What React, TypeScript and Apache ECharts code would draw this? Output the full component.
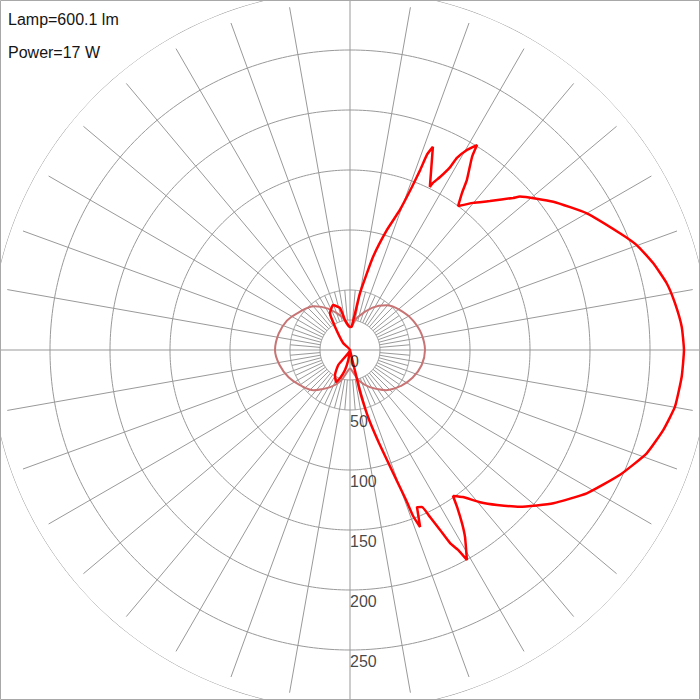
import { useEffect, useRef } from "react";
import * as echarts from "echarts";

const lampText = "Lamp=600.1 lm";
const powerText = "Power=17 W";

const radiusTicks = [0, 50, 100, 150, 200, 250];
const gridRings = [25, 50, 100, 150, 200, 250, 300];

// Red curve (C0 right / C180 left). Angle: 0 = nadir (down), 90 = right, 180 = zenith, 270 = left.
const redAngles = [
  0, 13, 13.5, 13.5, 14.5, 15.5, 17.3, 18.7, 19.7, 20.5, 20.8, 21.6, 23.1, 24.6, 25.6, 26.6, 27.4, 28.4, 29.1,
  31.6, 32.9, 34.3, 35.2, 37.5, 40.5, 43.5, 47.3, 53.0, 58.8, 65.2, 70.8, 75.7, 80.1, 85.4, 90.0, 94.0, 98.2,
  101.9, 106.0, 110.1, 113.4, 120.0, 126.1, 132.1, 133.0, 136.8, 140.1, 143.1, 144.5, 145.5, 147.7, 148.2,
  149.7, 150.9, 151.3, 152.5, 153.6, 153.9, 157.8, 158.5, 158.7, 159.2, 160.4, 162.9, 166.1, 170.0, 175.8,
  180.0, 189.5, 193.4, 200.7, 208.6, 212.8, 225.0, 240, 300, 310, 322, 329, 336.4, 340.5, 346, 350.4, 360,
];
const redValues = [
  0, 6, 20, 35, 50, 62.3, 81.2, 98.6, 116, 133.4, 148, 158.7, 142.3, 143.9, 154.3, 167.7, 181.2, 189.4, 200.3,
  182.9, 171.8, 158.3, 148.9, 154.5, 166.8, 178.0, 192.7, 212.2, 230.6, 247.9, 261.8, 269.5, 274.9, 277.3, 278.3,
  277.1, 273.6, 269.7, 262.8, 254.4, 245.1, 227.8, 209.7, 190.8, 185.8, 170.3, 159.8, 150.0, 160.8, 172.0, 190.3,
  200.9, 193.1, 183.2, 173.8, 162.5, 155.4, 151.3, 182.8, 174.8, 160.9, 145.3, 123.9, 104.7, 79.8, 48.3, 19.5,
  19.2, 25.3, 36.0, 40.0, 34.8, 23.1, 7.9, 0, 0, 0, 15.8, 24.3, 29, 25, 17.2, 8.5, 0,
];

// Pink curve (C90 / C270), gamma from nadir
const pinkGammas = [0, 5, 17, 28, 42, 55, 66, 78, 90, 103, 115, 124, 141, 152, 167, 180];
const pinkRight = [15, 17, 27, 35, 45, 52, 57, 61, 62.5, 61, 58, 55, 48, 40, 28, 19];
const pinkLeft = [15, 17, 27, 35, 45, 51, 56, 60, 62.5, 61, 58, 54, 47, 39, 28, 19];

const FONT = '"Liberation Sans", Arial, sans-serif';
const GRID = "#999999";

export default function App() {
  const ref = useRef<HTMLDivElement>(null);
  useEffect(() => {
    if (!ref.current) return;
    const chart = echarts.init(ref.current, undefined, { renderer: "svg" });
    const series: any[] = [];
    gridRings.forEach((r) => {
      const d: number[][] = [];
      for (let a = 0; a <= 360; a += 1) d.push([r, a]);
      series.push({
        type: "line", coordinateSystem: "polar", data: d, symbol: "none", silent: true,
        lineStyle: { color: GRID, width: 1 }, z: 1,
      });
    });
    for (let a = 0; a < 360; a += 5) {
      const axis = a % 90 === 0;
      const major = a % 10 === 0;
      const r0 = axis ? 0 : 25;
      const r1 = axis ? 300 : major ? 290 : 50;
      series.push({
        type: "line", coordinateSystem: "polar", data: [[r0, a], [r1, a]], symbol: "none", silent: true,
        lineStyle: { color: GRID, width: 1 }, z: 1,
      });
    }
    const pinkData: number[][] = [];
    pinkGammas.forEach((g, i) => pinkData.push([pinkRight[i], g]));
    for (let i = pinkGammas.length - 1; i >= 0; i--) pinkData.push([pinkLeft[i], 360 - pinkGammas[i]]);
    series.push({
      type: "line", coordinateSystem: "polar", data: pinkData, symbol: "none", silent: true, smooth: 0.4,
      lineStyle: { color: "#c87474", width: 2 }, z: 5,
    });
    series.push({
      type: "line", coordinateSystem: "polar", data: redAngles.map((a, i) => [redValues[i], a]),
      symbol: "none", silent: true, smooth: 0.15, lineStyle: { color: "#ff0000", width: 2.5 }, z: 6,
    });
    series.push({
      type: "scatter", coordinateSystem: "polar", data: radiusTicks.map((v) => [v, 0]), symbolSize: 0,
      silent: true, z: 8,
      label: {
        show: true, formatter: (p: any) => String(p.value[0]), position: [0, 3], align: "left",
        verticalAlign: "top", fontSize: 16, fontFamily: FONT, color: "#151515",
      },
    });
    chart.setOption({
      animation: false,
      backgroundColor: "#ffffff",
      polar: { center: [350, 350], radius: [0, 360] },
      angleAxis: { type: "value", min: 0, max: 360, startAngle: -90, clockwise: false, show: false },
      radiusAxis: { type: "value", min: 0, max: 300, show: false },
      graphic: [
        { type: "text", x: 8, y: 11.5, z: 20, style: { text: lampText, fontSize: 16, fontFamily: FONT, fill: "#151515", verticalAlign: "top" } },
        { type: "text", x: 8, y: 44, z: 20, style: { text: powerText, fontSize: 16, fontFamily: FONT, fill: "#151515", verticalAlign: "top" } },
        { type: "rect", z: 20, shape: { x: 0.5, y: 0.5, width: 699, height: 699 }, style: { fill: "none", stroke: "#a8a8a8", lineWidth: 1 } },
      ],
      series,
    });
    return () => chart.dispose();
  }, []);
  return (
    <div ref={ref} style={{ position: "absolute", left: 0, top: 0, width: 700, height: 700, background: "#fff" }} />
  );
}
